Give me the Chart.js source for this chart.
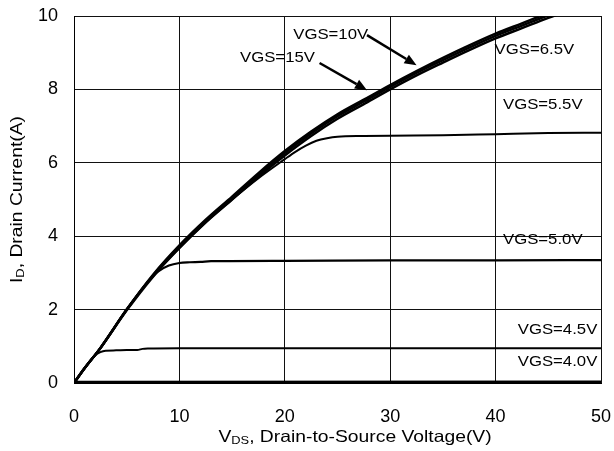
<!DOCTYPE html>
<html>
<head>
<meta charset="utf-8">
<script src="https://cdn.jsdelivr.net/npm/chart.js@4.4.0/dist/chart.umd.min.js"></script>
<style>
  body { margin: 0; background: #fff; }
  #wrap { width: 614px; height: 451px; }
</style>
</head>
<body>
<div id="wrap"><canvas id="ivChart" width="614" height="451"></canvas></div>
<script>
// V_DS (V) sample points and I_D (A), one pair of arrays per curve
const vdsMain = [0, 1, 2.5, 5, 7.5, 10, 12.5, 15, 17.5, 20, 22.5, 25, 27.5, 30, 32.5, 35, 37.5, 40, 42.5, 45, 47.5, 50];
const id15 = [0, 0.4, 0.95, 2.0, 2.95, 3.75, 4.45, 5.08, 5.72, 6.32, 6.85, 7.32, 7.72, 8.12, 8.5, 8.86, 9.2, 9.52, 9.8, 10.08, 10.34, 10.6];
const id10 = [0, 0.4, 0.95, 2.0, 2.93, 3.72, 4.42, 5.05, 5.68, 6.27, 6.8, 7.27, 7.67, 8.07, 8.45, 8.8, 9.14, 9.46, 9.74, 10.02, 10.28, 10.54];
const id65 = [0, 0.4, 0.95, 1.98, 2.9, 3.68, 4.38, 5.0, 5.62, 6.2, 6.73, 7.2, 7.6, 8.0, 8.38, 8.73, 9.07, 9.39, 9.67, 9.95, 10.2, 10.46];

const vds55 = [0, 1, 2.5, 5, 7.5, 10, 12.5, 15, 17.5, 20, 21, 22, 23, 24, 25, 27.5, 30, 35, 40, 45, 50];
const id55 = [0, 0.4, 0.95, 2.0, 2.92, 3.68, 4.38, 5.0, 5.58, 6.1, 6.3, 6.47, 6.6, 6.67, 6.71, 6.73, 6.74, 6.75, 6.78, 6.81, 6.82];

const vds50 = [0, 1, 2.5, 5, 7, 8, 9, 10, 11, 12, 13, 20, 30, 40, 50];
const id50 = [0, 0.4, 0.95, 2.0, 2.75, 3.04, 3.2, 3.27, 3.29, 3.3, 3.32, 3.33, 3.34, 3.34, 3.35];

const vds45 = [0, 1, 2, 2.5, 3, 4, 5, 6, 6.5, 7, 10, 20, 30, 40, 50];
const id45 = [0, 0.4, 0.75, 0.84, 0.88, 0.89, 0.9, 0.9, 0.93, 0.94, 0.95, 0.95, 0.95, 0.95, 0.95];

const vds40 = [0, 50];
const id40 = [0.02, 0.03];

const xTicks = [0, 10, 20, 30, 40, 50];
const yTicks = [0, 2, 4, 6, 8, 10];

// curve labels: text, left x and middle y in data units
const labelTexts = ["VGS=10V", "VGS=15V", "VGS=6.5V", "VGS=5.5V", "VGS=5.0V", "VGS=4.5V", "VGS=4.0V"];
const labelX = [20.8, 15.75, 39.9, 40.7, 40.7, 42.1, 42.1];
const labelY = [9.48, 8.86, 9.07, 7.57, 3.9, 1.44, 0.57];
// arrows: from -> to in data units
const arrowFrom = [[27.8, 9.48], [23.3, 8.72]];
const arrowTo = [[32.5, 8.66], [27.8, 7.98]];

function pts(xs, ys) {
  return xs.map((x, i) => ({ x: x, y: ys[i] }));
}

function curve(label, xs, ys, width) {
  return {
    label: label,
    data: pts(xs, ys),
    showLine: true,
    borderColor: "#000",
    backgroundColor: "#000",
    borderWidth: width,
    pointRadius: 0,
    cubicInterpolationMode: "monotone",
    clip: { left: 0, top: 0, right: 0, bottom: 4 }
  };
}

const FONT = "'Liberation Sans', Arial, sans-serif";

const textPlugin = {
  id: "textPlugin",
  afterDraw(chart) {
    const ctx = chart.ctx;
    const xs = chart.scales.x;
    const ys = chart.scales.y;
    ctx.save();
    ctx.fillStyle = "#000";
    ctx.strokeStyle = "#000";

    // curve labels
    ctx.font = "15.5px " + FONT;
    ctx.textAlign = "left";
    ctx.textBaseline = "middle";
    labelTexts.forEach((t, i) => {
      const px = xs.getPixelForValue(labelX[i]);
      const py = ys.getPixelForValue(labelY[i]);
      ctx.save();
      ctx.translate(px, py);
      ctx.scale(1.08, 1);
      ctx.fillText(t, 0, 0);
      ctx.restore();
    });

    // arrows
    arrowFrom.forEach((f, i) => {
      const x1 = xs.getPixelForValue(f[0]), y1 = ys.getPixelForValue(f[1]);
      const x2 = xs.getPixelForValue(arrowTo[i][0]), y2 = ys.getPixelForValue(arrowTo[i][1]);
      const a = Math.atan2(y2 - y1, x2 - x1);
      const hl = 12, hw = 5;
      const bx = x2 - hl * Math.cos(a), by = y2 - hl * Math.sin(a);
      ctx.lineWidth = 2.5;
      ctx.beginPath();
      ctx.moveTo(x1, y1);
      ctx.lineTo(bx, by);
      ctx.stroke();
      ctx.beginPath();
      ctx.moveTo(x2, y2);
      ctx.lineTo(bx + hw * Math.sin(a), by - hw * Math.cos(a));
      ctx.lineTo(bx - hw * Math.sin(a), by + hw * Math.cos(a));
      ctx.closePath();
      ctx.fill();
    });

    // x axis title with subscript
    const area = chart.chartArea;
    drawSubTitle(ctx, "V", "DS", ", Drain-to-Source Voltage(V)", 355, 437, 0);
    // y axis title, rotated
    drawSubTitle(ctx, "I", "D", ", Drain Current(A)", 17, (area.top + area.bottom) / 2, -Math.PI / 2);
    ctx.restore();
  }
};

function drawSubTitle(ctx, main, sub, rest, cx, cy, rot) {
  const big = "16.5px " + FONT, small = "11px " + FONT;
  ctx.font = big;
  const w1 = ctx.measureText(main).width;
  const w3 = ctx.measureText(rest).width;
  ctx.font = small;
  const w2 = ctx.measureText(sub).width;
  const total = w1 + w2 + w3;
  ctx.save();
  ctx.translate(cx, cy);
  ctx.rotate(rot);
  ctx.scale(1.17, 1);
  ctx.textAlign = "left";
  ctx.textBaseline = "middle";
  let x = -total / 2;
  ctx.font = big;
  ctx.fillText(main, x, 0);
  x += w1;
  ctx.font = small;
  ctx.fillText(sub, x, 4);
  x += w2;
  ctx.font = big;
  ctx.fillText(rest, x, 0);
  ctx.restore();
}

new Chart(document.getElementById("ivChart"), {
  type: "scatter",
  data: {
    datasets: [
      curve("VGS=15V", vdsMain, id15, 2.5),
      curve("VGS=10V", vdsMain, id10, 2.5),
      curve("VGS=6.5V", vdsMain, id65, 2.5),
      curve("VGS=5.5V", vds55, id55, 2),
      curve("VGS=5.0V", vds50, id50, 2.2),
      curve("VGS=4.5V", vds45, id45, 2),
      curve("VGS=4.0V", vds40, id40, 3)
    ]
  },
  options: {
    responsive: false,
    animation: false,
    events: [],
    layout: { padding: { left: 0, right: 13, top: 16, bottom: 0 } },
    plugins: { legend: { display: false }, tooltip: { enabled: false } },
    scales: {
      x: {
        type: "linear",
        min: 0,
        max: 50,
        afterFit(scale) {
          scale.height = 68;
          scale.paddingLeft = 0;
          scale.paddingRight = 0;
        },
        afterBuildTicks(scale) { scale.ticks = xTicks.map(v => ({ value: v })); },
        grid: { color: "#111", lineWidth: 1, drawTicks: false },
        border: { color: "#000", width: 1 },
        ticks: { color: "#000", padding: 23, font: { family: FONT, size: 18 } }
      },
      y: {
        type: "linear",
        min: 0,
        max: 10,
        afterFit(scale) {
          scale.width = 74;
          scale.paddingTop = 0;
          scale.paddingBottom = 0;
        },
        afterBuildTicks(scale) { scale.ticks = yTicks.map(v => ({ value: v })); },
        grid: { color: "#111", lineWidth: 1, drawTicks: false },
        border: { color: "#000", width: 1 },
        ticks: { color: "#000", padding: 16, font: { family: FONT, size: 18 } }
      }
    }
  },
  plugins: [textPlugin]
});
</script>
</body>
</html>
